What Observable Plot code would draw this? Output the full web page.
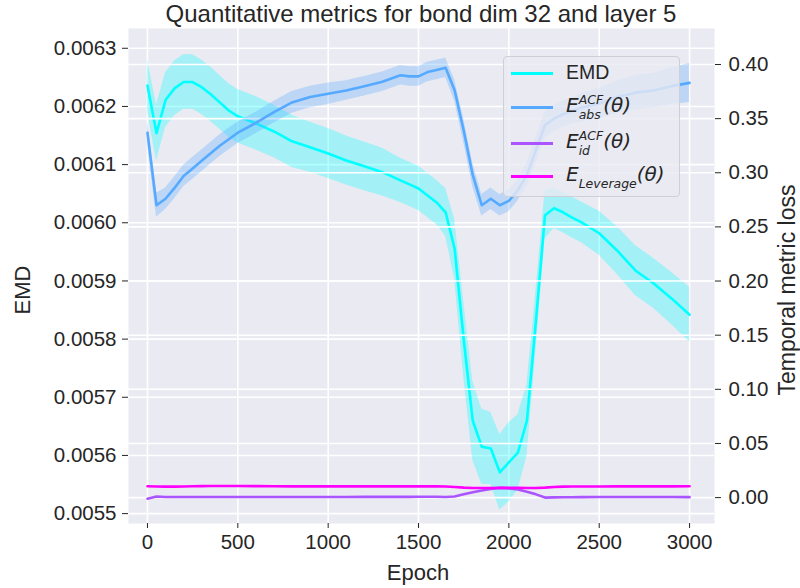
<!DOCTYPE html>
<html>
<head>
<meta charset="utf-8">
<script src="https://cdn.jsdelivr.net/npm/d3@7"></script>
<script src="https://cdn.jsdelivr.net/npm/@observablehq/plot@0.6"></script>
<style>
  html, body { margin: 0; padding: 0; background: white; }
  #wrap { position: relative; width: 800px; height: 588px; font-family: "Liberation Sans", Arial, sans-serif; color: #262626; }
  .lbl { position: absolute; white-space: nowrap; line-height: 1; }
  #legend { position: absolute; left: 503px; top: 56px; width: 177px; height: 141px; background: rgba(234,234,242,0.8); border: 1px solid #cfcfd6; border-radius: 4px; box-sizing: border-box; }
  .swatch { position: absolute; left: 7px; width: 42px; height: 3px; }
  .rtext { position: absolute; left: 62px; font-size: 19.5px; white-space: nowrap; line-height: 1; }
  .m { font-family: "DejaVu Sans", sans-serif; font-style: italic; font-size: 20px; }
  .ss { display: inline-flex; flex-direction: column; vertical-align: middle; line-height: 1; gap: 4px; }
  .ss span { display: block; font-size: 12.5px; line-height: 11px; font-family: "DejaVu Sans", sans-serif; font-style: italic; }
</style>
</head>
<body>
<div id="wrap">
  <div id="chart"></div>
</div>
<script>
// ---- data ----
const epochs = [0,50,100,150,200,250,300,350,400,450,500,600,700,800,900,1000,1100,1200,1300,1400,1450,1500,1550,1600,1650,1700,1750,1800,1850,1900,1950,2000,2050,2100,2150,2200,2250,2300,2350,2400,2500,2600,2700,2800,2900,3000];
const emd = [0.006236,0.006154,0.006211,0.006231,0.006242,0.006242,0.006233,0.006221,0.006207,0.006193,0.006183,0.006171,0.006157,0.006140,0.006130,0.006119,0.006107,0.006097,0.006087,0.006073,0.006066,0.006059,0.006047,0.006035,0.006018,0.005955,0.005800,0.005660,0.005615,0.005612,0.005571,0.005588,0.005605,0.005660,0.005832,0.006013,0.006025,0.006018,0.006009,0.006001,0.005982,0.005952,0.005918,0.005896,0.005870,0.005842];
const emdSpread = [0.000045,0.000048,0.000047,0.000047,0.000047,0.000047,0.000047,0.000047,0.000046,0.000046,0.000046,0.000046,0.000045,0.000045,0.000043,0.000043,0.000042,0.000042,0.000041,0.000038,0.000038,0.000038,0.000038,0.000038,0.000041,0.000052,0.000065,0.000068,0.000065,0.000062,0.000065,0.000068,0.000065,0.000062,0.000052,0.000041,0.000035,0.000035,0.000035,0.000035,0.000038,0.000041,0.000043,0.000043,0.000045,0.000047];
const eAbs = [0.337,0.270,0.276,0.286,0.297,0.304,0.311,0.318,0.325,0.331,0.337,0.346,0.356,0.365,0.370,0.373,0.376,0.380,0.384,0.390,0.389,0.389,0.393,0.395,0.397,0.376,0.339,0.298,0.270,0.276,0.270,0.274,0.284,0.298,0.321,0.344,0.350,0.354,0.357,0.360,0.364,0.370,0.374,0.376,0.380,0.383];
const eAbsSpread = [0.011,0.011,0.010,0.010,0.010,0.010,0.010,0.010,0.010,0.010,0.010,0.010,0.010,0.010,0.010,0.010,0.009,0.009,0.009,0.009,0.009,0.009,0.009,0.009,0.009,0.010,0.011,0.011,0.010,0.010,0.010,0.010,0.010,0.011,0.012,0.012,0.012,0.012,0.012,0.013,0.014,0.015,0.016,0.016,0.017,0.018];
const eId = [-0.001,0.001,0.0005,0.0005,0.0005,0.0005,0.0006,0.0006,0.0006,0.0006,0.0006,0.0006,0.0006,0.0006,0.0006,0.0006,0.0006,0.0007,0.0007,0.0007,0.0007,0.0008,0.0008,0.0008,0.0006,0.0010,0.0030,0.0050,0.0065,0.0080,0.0090,0.0085,0.0075,0.0055,0.0030,0.0000,0.0002,0.0003,0.0003,0.0004,0.0005,0.0006,0.0006,0.0005,0.0005,0.0004];
const eLev = [0.0105,0.0103,0.0101,0.0101,0.0103,0.0105,0.0106,0.0107,0.0107,0.0107,0.0107,0.0106,0.0105,0.0104,0.0104,0.0104,0.0104,0.0104,0.0104,0.0104,0.0104,0.0104,0.0104,0.0104,0.0103,0.0098,0.0092,0.0088,0.0088,0.0089,0.0090,0.0090,0.0090,0.0088,0.0088,0.0092,0.0098,0.0101,0.0102,0.0103,0.0103,0.0104,0.0104,0.0104,0.0104,0.0105];
const xTicks = [0,500,1000,1500,2000,2500,3000];
const emdTicks = [0.0055,0.0056,0.0057,0.0058,0.0059,0.0060,0.0061,0.0062,0.0063];
const rightTicks = [0,0.05,0.10,0.15,0.20,0.25,0.30,0.35,0.40];
const title = "Quantitative metrics for bond dim 32 and layer 5";

// secondary axis mapping (right value -> EMD scale)
const c0 = 0.00552753, c1 = 0.0018615;
const toLeft = v => c0 + v * c1;

const rows = epochs.map((e, i) => ({
  epoch: e, emd: emd[i], emdLo: emd[i] - emdSpread[i], emdHi: emd[i] + emdSpread[i],
  abs: toLeft(eAbs[i]), absLo: toLeft(eAbs[i] - eAbsSpread[i]), absHi: toLeft(eAbs[i] + eAbsSpread[i]),
  id: toLeft(eId[i]), lev: toLeft(eLev[i])
}));

const grid = {stroke: "white", strokeOpacity: 1, strokeWidth: 1.6};
const chart = Plot.plot({
  width: 800, height: 588,
  marginLeft: 128, marginRight: 86, marginTop: 28, marginBottom: 65,
  x: {domain: [-105, 3138]},
  y: {domain: [0.005483, 0.006334]},
  style: {fontFamily: "'Liberation Sans', Arial, sans-serif", fontSize: "20.5px", color: "#262626", background: "white", overflow: "visible"},
  marks: [
    Plot.frame({fill: "#EAEAF2", stroke: null}),
    Plot.gridX(xTicks, grid),
    Plot.gridY(emdTicks, grid),
    Plot.areaY(rows, {x: "epoch", y1: "emdLo", y2: "emdHi", fill: "#00FFFF", fillOpacity: 0.3}),
    Plot.line(rows, {x: "epoch", y: "emd", stroke: "#00FFFF", strokeWidth: 2.6}),
    Plot.gridY(rightTicks.map(toLeft), grid),
    Plot.areaY(rows, {x: "epoch", y1: "absLo", y2: "absHi", fill: "#55AAFF", fillOpacity: 0.3}),
    Plot.line(rows, {x: "epoch", y: "abs", stroke: "#55AAFF", strokeWidth: 2.6}),
    Plot.line(rows, {x: "epoch", y: "id", stroke: "#AA55FF", strokeWidth: 2.6}),
    Plot.line(rows, {x: "epoch", y: "lev", stroke: "#FF00FF", strokeWidth: 2.6}),
    Plot.axisX(xTicks, {tickSize: 5, tickPadding: 6, label: null, tickFormat: d => String(d)}),
    Plot.axisY(emdTicks, {anchor: "left", tickSize: 6, tickPadding: 6, tickFormat: d => d.toFixed(4), label: null}),
    Plot.axisY(rightTicks.map(toLeft), {anchor: "right", tickSize: 6, tickPadding: 8, tickFormat: d => ((d - c0) / c1).toFixed(2), label: null})
  ]
});
document.getElementById("chart").appendChild(chart);

const wrap = document.getElementById("wrap");
function addLabel(text, css) {
  const d = document.createElement("div");
  d.className = "lbl";
  d.textContent = text;
  Object.assign(d.style, css);
  wrap.appendChild(d);
  return d;
}
addLabel(title, {left: "421px", top: "14px", fontSize: "24px", transform: "translate(-50%,-50%)"});
addLabel("Epoch", {left: "418px", top: "573px", fontSize: "22px", transform: "translate(-50%,-50%)"});
addLabel("EMD", {left: "23px", top: "290px", fontSize: "22px", transform: "translate(-50%,-50%) rotate(-90deg)"});
addLabel("Temporal metric loss", {left: "787px", top: "290px", fontSize: "23px", transform: "translate(-50%,-50%) rotate(-90deg)"});

// legend
const legend = document.createElement("div");
legend.id = "legend";
const entries = [
  {c: "#00FFFF", html: "EMD", y: 16},
  {c: "#55AAFF", html: '<span class="m">E</span><span class="ss"><span>ACF</span><span>abs</span></span><span class="m">(θ)</span>', y: 50},
  {c: "#AA55FF", html: '<span class="m">E</span><span class="ss"><span>ACF</span><span>id</span></span><span class="m">(θ)</span>', y: 86},
  {c: "#FF00FF", html: '<span class="m">E</span><span class="ss"><span style="visibility:hidden">A</span><span>Leverage</span></span><span class="m">(θ)</span>', y: 119}
];
entries.forEach(e => {
  const sw = document.createElement("div");
  sw.className = "swatch";
  sw.style.background = e.c;
  sw.style.top = (e.y - 1.5) + "px";
  legend.appendChild(sw);
  const t = document.createElement("div");
  t.className = "rtext";
  t.innerHTML = e.html;
  t.style.top = e.y + "px";
  t.style.transform = "translateY(-50%)";
  legend.appendChild(t);
});
wrap.appendChild(legend);
</script>
</body>
</html>
